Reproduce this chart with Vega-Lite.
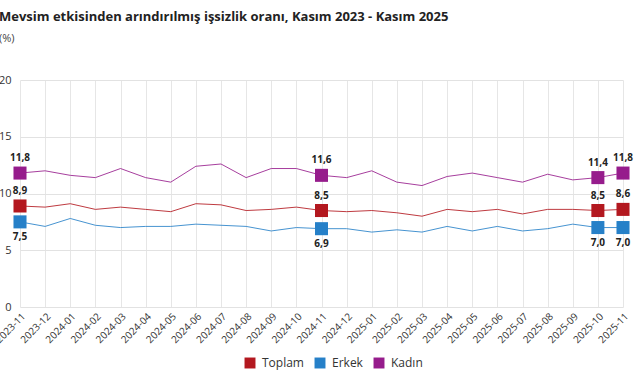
{
  "$schema": "https://vega.github.io/schema/vega-lite/v6.json",
  "width": 603,
  "height": 227,
  "autosize": {"type": "none"},
  "padding": {"left": 20, "top": 80, "right": 17, "bottom": 68},
  "title": {
    "text": "Mevsim etkisinden arındırılmış işsizlik oranı, Kasım 2023 - Kasım 2025",
    "subtitle": "(%)",
    "anchor": "start",
    "frame": "group",
    "dx": -21,
    "offset": 30,
    "font": "Open Sans",
    "fontSize": 13,
    "fontWeight": "bold",
    "color": "#222222",
    "subtitleFont": "Open Sans",
    "subtitleFontSize": 11,
    "subtitleColor": "#444444",
    "subtitlePadding": 9
  },
  "config": {
    "view": {"stroke": null},
    "font": "Open Sans",
    "locale": {"number": {"decimal": ",", "thousands": ".", "grouping": [3], "currency": ["", " TL"]}}
  },
  "data": {
    "values": [
      {"month": "2023-11", "Toplam": 8.9, "Erkek": 7.5, "Kadın": 11.8},
      {"month": "2023-12", "Toplam": 8.8, "Erkek": 7.1, "Kadın": 12.0},
      {"month": "2024-01", "Toplam": 9.1, "Erkek": 7.8, "Kadın": 11.6},
      {"month": "2024-02", "Toplam": 8.6, "Erkek": 7.2, "Kadın": 11.4},
      {"month": "2024-03", "Toplam": 8.8, "Erkek": 7.0, "Kadın": 12.2},
      {"month": "2024-04", "Toplam": 8.6, "Erkek": 7.1, "Kadın": 11.4},
      {"month": "2024-05", "Toplam": 8.4, "Erkek": 7.1, "Kadın": 11.0},
      {"month": "2024-06", "Toplam": 9.1, "Erkek": 7.3, "Kadın": 12.4},
      {"month": "2024-07", "Toplam": 9.0, "Erkek": 7.2, "Kadın": 12.6},
      {"month": "2024-08", "Toplam": 8.5, "Erkek": 7.1, "Kadın": 11.4},
      {"month": "2024-09", "Toplam": 8.6, "Erkek": 6.7, "Kadın": 12.2},
      {"month": "2024-10", "Toplam": 8.8, "Erkek": 7.0, "Kadın": 12.2},
      {"month": "2024-11", "Toplam": 8.5, "Erkek": 6.9, "Kadın": 11.6},
      {"month": "2024-12", "Toplam": 8.4, "Erkek": 6.9, "Kadın": 11.4},
      {"month": "2025-01", "Toplam": 8.5, "Erkek": 6.6, "Kadın": 12.0},
      {"month": "2025-02", "Toplam": 8.3, "Erkek": 6.8, "Kadın": 11.0},
      {"month": "2025-03", "Toplam": 8.0, "Erkek": 6.6, "Kadın": 10.7},
      {"month": "2025-04", "Toplam": 8.6, "Erkek": 7.1, "Kadın": 11.5},
      {"month": "2025-05", "Toplam": 8.4, "Erkek": 6.7, "Kadın": 11.8},
      {"month": "2025-06", "Toplam": 8.6, "Erkek": 7.1, "Kadın": 11.4},
      {"month": "2025-07", "Toplam": 8.2, "Erkek": 6.7, "Kadın": 11.0},
      {"month": "2025-08", "Toplam": 8.6, "Erkek": 6.9, "Kadın": 11.7},
      {"month": "2025-09", "Toplam": 8.6, "Erkek": 7.3, "Kadın": 11.2},
      {"month": "2025-10", "Toplam": 8.5, "Erkek": 7.0, "Kadın": 11.4},
      {"month": "2025-11", "Toplam": 8.6, "Erkek": 7.0, "Kadın": 11.8}
    ]
  },
  "transform": [
    {"fold": ["Toplam", "Erkek", "Kadın"], "as": ["series", "value"]}
  ],
  "encoding": {
    "x": {
      "field": "month",
      "type": "ordinal",
      "scale": {"type": "point", "padding": 0},
      "axis": {
        "title": null,
        "labelAngle": -45,
        "grid": true,
        "gridColor": "#e6e6e6",
        "ticks": false,
        "domain": false,
        "labelFontSize": 10,
        "labelColor": "#333333",
        "labelPadding": 4
      }
    },
    "y": {
      "field": "value",
      "type": "quantitative",
      "scale": {"domain": [0, 20]},
      "axis": {
        "title": null,
        "values": [0, 5, 10, 15, 20],
        "grid": true,
        "gridColor": "#e2e2e2",
        "ticks": false,
        "domain": false,
        "labelFontSize": 11,
        "labelColor": "#333333",
        "labelPadding": 9
      }
    },
    "color": {
      "field": "series",
      "type": "nominal",
      "scale": {"domain": ["Toplam", "Erkek", "Kadın"], "range": ["#b3181f", "#2680c8", "#961c8c"]},
      "legend": {
        "title": null,
        "orient": "none",
        "legendX": 224,
        "legendY": 277,
        "direction": "horizontal",
        "padding": 0,
        "symbolType": "square",
        "symbolSize": 120,
        "symbolStrokeWidth": 0,
        "symbolOpacity": 1,
        "symbolOffset": 0,
        "labelFontSize": 12,
        "labelColor": "#333333",
        "labelOffset": 6,
        "columnPadding": 10
      }
    }
  },
  "layer": [
    {"mark": {"type": "line", "strokeWidth": 1, "opacity": 0.85}},
    {
      "transform": [{"filter": {"field": "month", "oneOf": ["2023-11", "2024-11", "2025-10", "2025-11"]}}],
      "mark": {"type": "square", "filled": true, "size": 170, "opacity": 1}
    },
    {
      "transform": [
        {"filter": {"field": "month", "oneOf": ["2023-11", "2024-11", "2025-10", "2025-11"]}},
        {"filter": {"field": "series", "oneOf": ["Toplam", "Kadın"]}}
      ],
      "mark": {"type": "text", "dy": -15, "fontSize": 10, "fontWeight": "bold", "color": "#222222"},
      "encoding": {"text": {"field": "value", "type": "quantitative", "format": ".1f"}, "color": {"value": "#222222"}}
    },
    {
      "transform": [
        {"filter": {"field": "month", "oneOf": ["2023-11", "2024-11", "2025-10", "2025-11"]}},
        {"filter": {"field": "series", "equal": "Erkek"}}
      ],
      "mark": {"type": "text", "dy": 15, "fontSize": 10, "fontWeight": "bold", "color": "#222222"},
      "encoding": {"text": {"field": "value", "type": "quantitative", "format": ".1f"}, "color": {"value": "#222222"}}
    }
  ]
}
